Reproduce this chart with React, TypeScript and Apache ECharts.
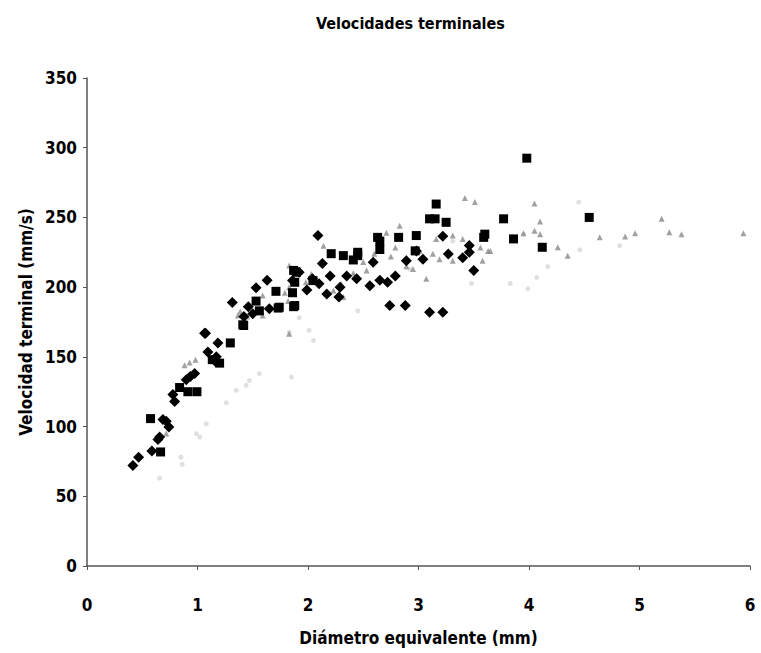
import React, { useEffect, useRef } from "react";
import * as echarts from "echarts";

const FONT = "'Liberation Sans Narrow', 'Arial Narrow', 'DejaVu Sans Condensed', 'Roboto Condensed', 'Liberation Sans', Arial, sans-serif";

const titleText = "Velocidades terminales";
const xName = "Diámetro equivalente (mm)";
const yName = "Velocidad terminal (mm/s)";

// Series 1: black diamonds [diameter mm, velocity mm/s]
const diamonds: number[][] = [
  [0.415, 72], [0.467, 78], [0.587, 82.5], [0.687, 105], [0.717, 103.8], [0.741, 99.7],
  [0.657, 92.5], [0.642, 90.7], [0.777, 123], [0.793, 118], [0.898, 133.6], [0.935, 136],
  [0.974, 138], [1.073, 167], [1.094, 153.4], [1.185, 160], [1.17, 150], [1.158, 147],
  [1.315, 189], [1.46, 186], [1.53, 199.5], [1.63, 205], [1.65, 184.5], [1.064, 167],
  [2.09, 237], [2.13, 217], [2.35, 208], [2.56, 201], [2.65, 205], [2.72, 203.5],
  [2.79, 208], [2.59, 217.8], [2.74, 186.8], [2.88, 186.8], [3.1, 182], [3.22, 182],
  [3.4, 221], [3.46, 229.8], [3.46, 225], [3.5, 212], [3.27, 223.8], [2.98, 226],
  [1.92, 210.7], [1.86, 204.7], [2.17, 195], [2.04, 206], [2.1, 202.4], [2.29, 200],
  [2.44, 206], [2.2, 208], [3.22, 236.5], [2.89, 219], [3.04, 220], [1.99, 198],
  [2.28, 193], [1.5, 181], [1.42, 179],
];

// Series 2: black squares
const squares: number[][] = [
  [0.575, 105.7], [0.666, 81.8], [0.838, 128], [0.913, 125], [0.995, 125], [1.134, 148],
  [1.2, 145.5], [1.297, 160], [1.41, 173], [1.71, 197], [1.53, 190], [1.56, 183],
  [1.73, 185], [1.418, 172.5], [1.87, 186], [1.88, 203.5], [1.87, 212], [1.895, 210.7],
  [1.86, 196], [1.88, 186.8], [2.045, 204.7], [2.41, 219.5], [2.21, 224], [2.32, 222.6],
  [2.45, 222.6], [2.63, 235.7], [2.82, 235.7], [2.65, 227], [2.98, 237], [2.97, 226],
  [3.16, 259.6], [3.1, 249], [3.15, 249], [3.25, 246.5], [3.6, 238], [3.59, 235.7],
  [3.77, 249], [3.86, 234.6], [3.98, 292.5], [4.545, 250], [4.12, 228.6], [1.74, 185.6],
  [2.65, 233], [2.45, 225],
];

// Series 3: mid-grey small markers
const greyPoints: number[][] = [
  [0.883, 144], [0.928, 146], [0.982, 148], [0.717, 95], [1.387, 182.5], [1.45, 179],
  [1.59, 194], [1.59, 179.7], [1.366, 179.7], [1.82, 190], [1.83, 215.5], [1.83, 166.5],
  [3.42, 264], [3.51, 261], [2.83, 244], [2.71, 239], [2.14, 229.6], [3.16, 234.6],
  [3.31, 237], [3.4, 234.6], [3.56, 228.5], [3.63, 226], [2.89, 221], [3.13, 224],
  [3.19, 220], [3.31, 219], [2.95, 213], [2.89, 215], [3.07, 206], [2.5, 218],
  [2.53, 212], [2.41, 210], [2.3, 202.5], [2.32, 193], [2.23, 197.6], [2.03, 209.5],
  [1.98, 203.5], [1.83, 200], [1.79, 196], [2.65, 234.6], [2.79, 228.5], [3.01, 226],
  [4.05, 260], [4.1, 247], [3.95, 238.6], [4.05, 240.5], [4.1, 238], [4.26, 228.6],
  [4.35, 222.6], [4.64, 235.7], [4.87, 236.3], [4.96, 238.6], [5.2, 249], [5.27, 239.3],
  [5.38, 238], [5.94, 238.6], [3.65, 226], [3.58, 219], [2.6, 224], [2.75, 222],
];

// Series 4: light-grey markers
const lightPoints: number[][] = [
  [0.657, 63], [0.85, 78], [0.862, 73], [0.99, 95], [1.02, 92.5], [1.08, 102],
  [1.26, 117], [1.35, 126], [1.44, 129.6], [1.56, 138], [1.47, 133], [1.85, 135.5],
  [1.92, 178], [2.01, 169], [2.05, 161.7], [1.83, 167.6], [2.45, 183], [3.48, 202.6],
  [3.83, 202.6], [3.99, 198.8], [4.07, 207], [4.17, 214.7], [4.46, 226.7], [4.82, 229.8],
  [4.45, 261], [3.95, 238], [3.31, 233], [2.92, 213],
];

export default function App() {
  const ref = useRef<HTMLDivElement>(null);
  useEffect(() => {
    if (!ref.current) return;
    const chart = echarts.init(ref.current, undefined, { renderer: "svg" });
    const axisText = { fontFamily: FONT, fontWeight: "bold" as const, fontSize: 17, color: "#000" };
    chart.setOption({
      animation: false,
      backgroundColor: "#fff",
      title: {
        text: titleText,
        left: 311,
        top: 10,
        textStyle: { fontFamily: FONT, fontWeight: "bold", fontSize: 16, color: "#000" },
      },
      grid: { left: 87, right: 11, top: 78, bottom: 87, containLabel: false },
      xAxis: {
        type: "value",
        min: 0,
        max: 6,
        interval: 1,
        name: xName,
        nameLocation: "middle",
        nameGap: 63,
        nameTextStyle: { ...axisText, fontSize: 17 },
        axisLine: { show: true, lineStyle: { color: "#555", width: 1.5 } },
        axisTick: { show: true, inside: false, length: 4, lineStyle: { color: "#555" } },
        axisLabel: { ...axisText, margin: 30 },
        splitLine: { show: false },
      },
      yAxis: {
        type: "value",
        min: 0,
        max: 350,
        interval: 50,
        name: yName,
        nameLocation: "middle",
        nameGap: 52,
        nameTextStyle: { ...axisText, fontSize: 17 },
        axisLine: { show: true, lineStyle: { color: "#555", width: 1.5 } },
        axisTick: { show: true, inside: false, length: 4, lineStyle: { color: "#555" } },
        axisLabel: { ...axisText, margin: 10 },
        splitLine: { show: false },
      },
      series: [
        {
          type: "scatter",
          data: lightPoints,
          symbol: "circle",
          symbolSize: 5,
          itemStyle: { color: "#d8d8d8" },
        },
        {
          type: "scatter",
          data: greyPoints,
          symbol: "triangle",
          symbolSize: 6,
          itemStyle: { color: "#8a8a8a" },
        },
        {
          type: "scatter",
          data: squares,
          symbol: "rect",
          symbolSize: 9,
          itemStyle: { color: "#000", opacity: 1 },
        },
        {
          type: "scatter",
          data: diamonds,
          symbol: "diamond",
          symbolSize: 11,
          itemStyle: { color: "#000", opacity: 1 },
        },
      ],
    });
    return () => chart.dispose();
  }, []);
  return (
    <div
      ref={ref}
      style={{ position: "fixed", left: 0, top: 0, width: 761, height: 653, overflow: "hidden" }}
    />
  );
}
